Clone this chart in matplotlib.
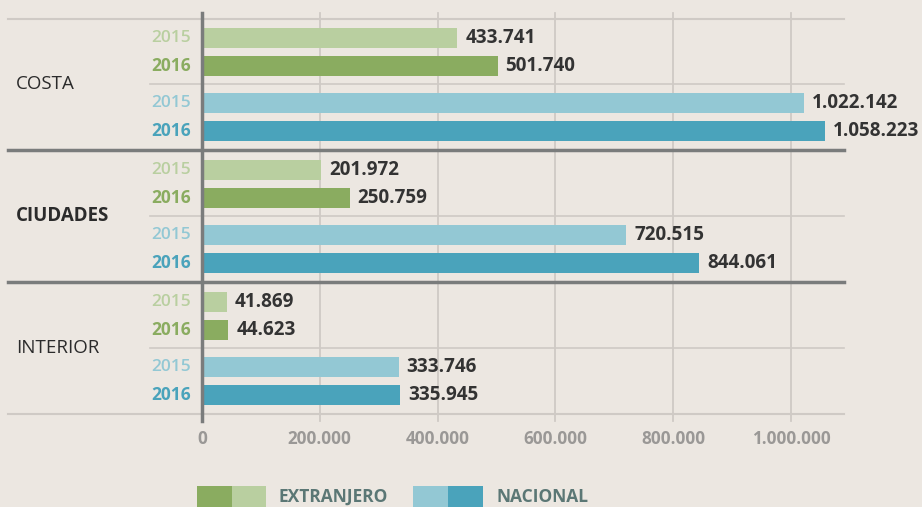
import matplotlib.pyplot as plt

# data
regions = ['COSTA', 'CIUDADES', 'INTERIOR']
ext_2015 = [433741, 201972, 41869]
ext_2016 = [501740, 250759, 44623]
nac_2015 = [1022142, 720515, 333746]
nac_2016 = [1058223, 844061, 335945]
ticks = [0, 200000, 400000, 600000, 800000, 1000000]

bg = '#ece7e1'
c_ext15, c_ext16 = '#b9cfa0', '#8aac60'
c_nac15, c_nac16 = '#93c8d4', '#4aa3bb'

plt.rcParams['font.family'] = ['Open Sans', 'DejaVu Sans']


def fmt(v):
    return f'{v:,}'.replace(',', '.')


W, H = 922, 507
x0 = 202            # pixel of value 0
scale = 589 / 1e6   # pixels per unit


def px(x):
    # pixel x -> data x
    return (x - x0) / scale


fig = plt.figure(figsize=(W / 100, H / 100), dpi=100)
fig.patch.set_facecolor(bg)
ax = fig.add_axes([0, 0, 1, 1])
ax.set_facecolor(bg)
ax.set_xlim(px(0), px(W))
ax.set_ylim(H, 0)
ax.axis('off')

period = 132
grid_c = '#cfcac5'
sep_c = '#7a7c7c'

# vertical grid + tick labels
for t in ticks:
    if t > 0:
        ax.plot([t, t], [13, 421], color=grid_c, lw=1.3, zorder=1)
    ax.text(t, 439, fmt(t), ha='center', va='center', fontsize=12.3,
            fontweight='bold', color='#9a9896')

# horizontal lines
ax.plot([px(8), px(844)], [19, 19], color=grid_c, lw=1.5, zorder=1)
ax.plot([px(8), px(844)], [414, 414], color=grid_c, lw=1.5, zorder=1)
for g in range(3):
    base = 38 + g * period
    ax.plot([px(150), px(844)], [base + 46, base + 46], color=grid_c, lw=1.2, zorder=1)
    if g < 2:
        ax.plot([px(8), px(844)], [base + 112, base + 112], color=sep_c, lw=2.5, zorder=3)

for g, name in enumerate(regions):
    base = 38 + g * period
    rows = [(ext_2015[g], c_ext15, base, '2015', 'normal'),
            (ext_2016[g], c_ext16, base + 28, '2016', 'bold'),
            (nac_2015[g], c_nac15, base + 65, '2015', 'normal'),
            (nac_2016[g], c_nac16, base + 93, '2016', 'bold')]
    for val, col, y, yr, w in rows:
        ax.barh(y, val, height=20, color=col, zorder=2)
        ax.text(val + 8 / scale, y, fmt(val), ha='left', va='center',
                fontsize=13.6, fontweight='bold', color='#333333')
        ax.text(px(191), y, yr, ha='right', va='center', fontsize=12.5,
                fontweight='bold' if w == 'bold' else 'semibold', color=col)
    ax.text(px(16), base + 46, name, ha='left', va='center', fontsize=13.5,
            fontweight='bold' if name == 'CIUDADES' else 'normal', color='#2b2b2b')

# zero axis
ax.plot([0, 0], [13, 421], color=sep_c, lw=2.5, zorder=4)

# legend
ly = 497
ax.barh(ly, px(232) - px(197), left=px(197), height=22, color=c_ext16, clip_on=False)
ax.barh(ly, px(266) - px(232), left=px(232), height=22, color=c_ext15, clip_on=False)
ax.text(px(279), ly, 'EXTRANJERO', ha='left', va='center', fontsize=12.5,
        fontweight='bold', color='#5b7775')
ax.barh(ly, px(448) - px(413), left=px(413), height=22, color=c_nac15, clip_on=False)
ax.barh(ly, px(483) - px(448), left=px(448), height=22, color=c_nac16, clip_on=False)
ax.text(px(496), ly, 'NACIONAL', ha='left', va='center', fontsize=12.5,
        fontweight='bold', color='#5b7775')

fig.savefig('out.png', dpi=100, facecolor=bg)
